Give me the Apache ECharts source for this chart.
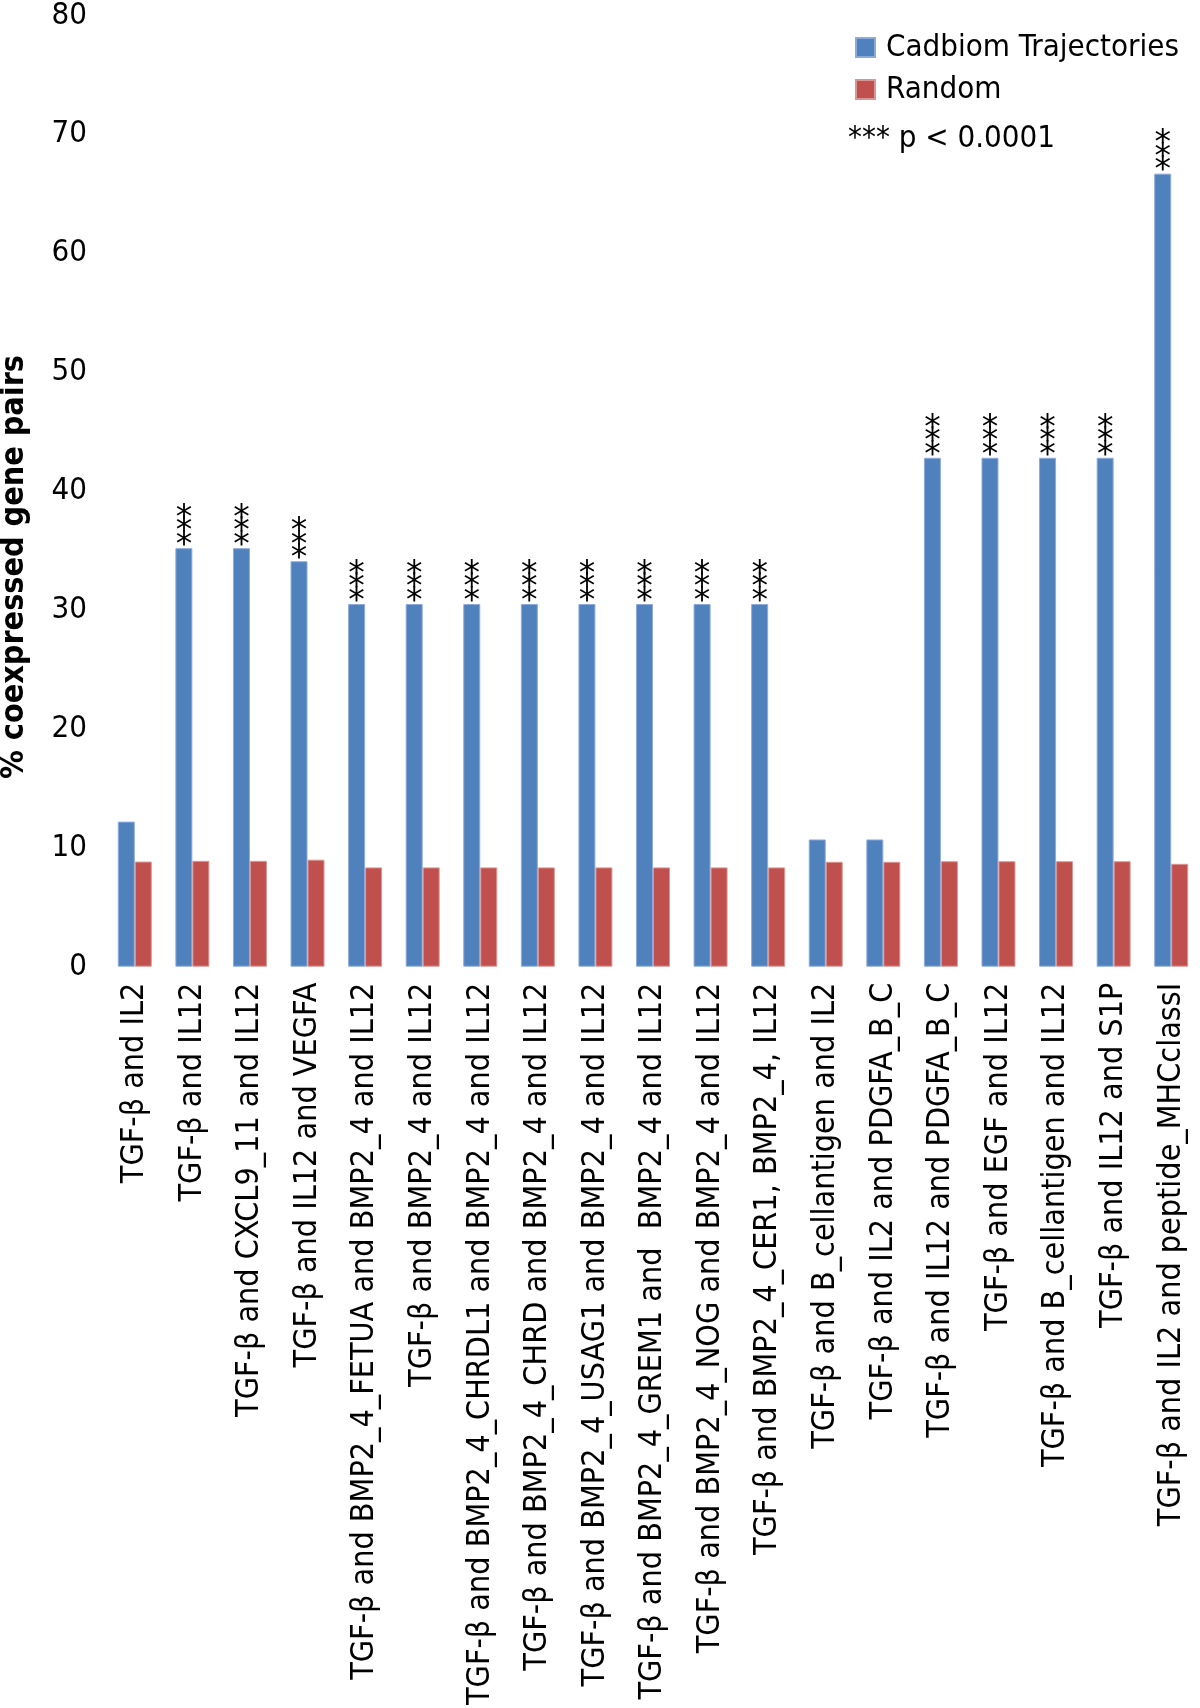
<!DOCTYPE html>
<html>
<head>
<meta charset="utf-8">
<script src="https://cdn.jsdelivr.net/npm/echarts@6/dist/echarts.min.js"></script>
<style>
html,body{margin:0;padding:0;background:#fff;}
#chart{width:1200px;height:1708px;}
</style>
</head>
<body>
<div id="chart"></div>
<script>
const categories = [
  "TGF-β and IL2",
  "TGF-β and IL12",
  "TGF-β and CXCL9_11 and IL12",
  "TGF-β and IL12 and VEGFA",
  "TGF-β and BMP2_4_FETUA and BMP2_4 and IL12",
  "TGF-β and BMP2_4 and IL12",
  "TGF-β and BMP2_4_CHRDL1 and BMP2_4 and IL12",
  "TGF-β and BMP2_4_CHRD and BMP2_4 and IL12",
  "TGF-β and BMP2_4_USAG1 and BMP2_4 and IL12",
  "TGF-β and BMP2_4_GREM1 and  BMP2_4 and IL12",
  "TGF-β and BMP2_4_NOG and BMP2_4 and IL12",
  "TGF-β and BMP2_4_CER1, BMP2_4, IL12",
  "TGF-β and B_cellantigen and IL2",
  "TGF-β and IL2 and PDGFA_B_C",
  "TGF-β and IL12 and PDGFA_B_C",
  "TGF-β and EGF and IL12",
  "TGF-β and B_cellantigen and IL12",
  "TGF-β and IL12 and S1P",
  "TGF-β and IL2 and peptide_MHCclassI"
];
const cadbiomValues = [12.2, 35.2, 35.2, 34.1, 30.5, 30.5, 30.5, 30.5, 30.5, 30.5, 30.5, 30.5, 10.7, 10.7, 42.8, 42.8, 42.8, 42.8, 66.7];
const randomValues  = [8.84, 8.9, 8.9, 9.0, 8.35, 8.35, 8.35, 8.35, 8.35, 8.35, 8.35, 8.35, 8.82, 8.82, 8.87, 8.87, 8.87, 8.87, 8.65];
const significant   = [false, true, true, true, true, true, true, true, true, true, true, true, false, false, true, true, true, true, true];
const seriesNames = ["Cadbiom Trajectories", "Random"];
const yAxisTitle = "% coexpressed gene pairs";
const noteText = "*** p < 0.0001";

const chart = echarts.init(document.getElementById('chart'), null, {renderer: 'canvas'});
const FONT = 'DejaVu Sans';
const CFONT = 'DejaVu Sans Condensed';

const blueData = cadbiomValues.map((v, i) => ({
  value: v,
  label: {show: significant[i]}
}));

chart.setOption({
  animation: false,
  backgroundColor: '#fff',
  grid: {left: 106, top: 13, width: 1096, bottom: 739, containLabel: false},
  legend: {
    orient: 'vertical',
    left: 850, top: 27,
    itemWidth: 19, itemHeight: 19,
    itemGap: 11,
    icon: 'rect',
    data: seriesNames,
    textStyle: {fontFamily: CFONT, fontSize: 31, color: '#000', lineHeight: 30, padding: [0, 0, 0, 6]}
  },
  xAxis: {
    type: 'category',
    data: categories,
    axisLine: {show: false},
    axisTick: {show: false},
    axisLabel: {
      interval: 0, rotate: 90, margin: 16,
      fontFamily: CFONT, fontSize: 32, color: '#000'
    }
  },
  yAxis: {
    type: 'value', min: 0, max: 80, interval: 10,
    axisLine: {show: false}, axisTick: {show: false},
    splitLine: {show: false},
    axisLabel: {fontFamily: CFONT, fontSize: 31, color: '#000', margin: 19}
  },
  series: [
    {
      name: seriesNames[0], type: 'bar', data: blueData,
      barGap: '0%', barCategoryGap: '41%',
      itemStyle: {color: '#4F81BD', borderColor: '#8EAADB', borderWidth: 1},
      label: {
        show: false, position: 'top', distance: -5,
        formatter: '*\n*\n*', fontFamily: FONT, fontSize: 33, lineHeight: 13.5, color: '#000'
      }
    },
    {
      name: seriesNames[1], type: 'bar', data: randomValues,
      itemStyle: {color: '#C0504D', borderColor: '#DA9694', borderWidth: 1}
    }
  ],
  graphic: [
    {
      type: 'text', left: 848, top: 123,
      style: {text: noteText, fontFamily: CFONT, fontSize: 31, fill: '#000'}
    },
    {
      type: 'text', x: 15, y: 567, rotation: Math.PI / 2,
      style: {text: yAxisTitle, fontFamily: CFONT, fontSize: 32, fontWeight: 'bold', fill: '#000', align: 'center', verticalAlign: 'middle'}
    }
  ]
});
</script>
</body>
</html>
